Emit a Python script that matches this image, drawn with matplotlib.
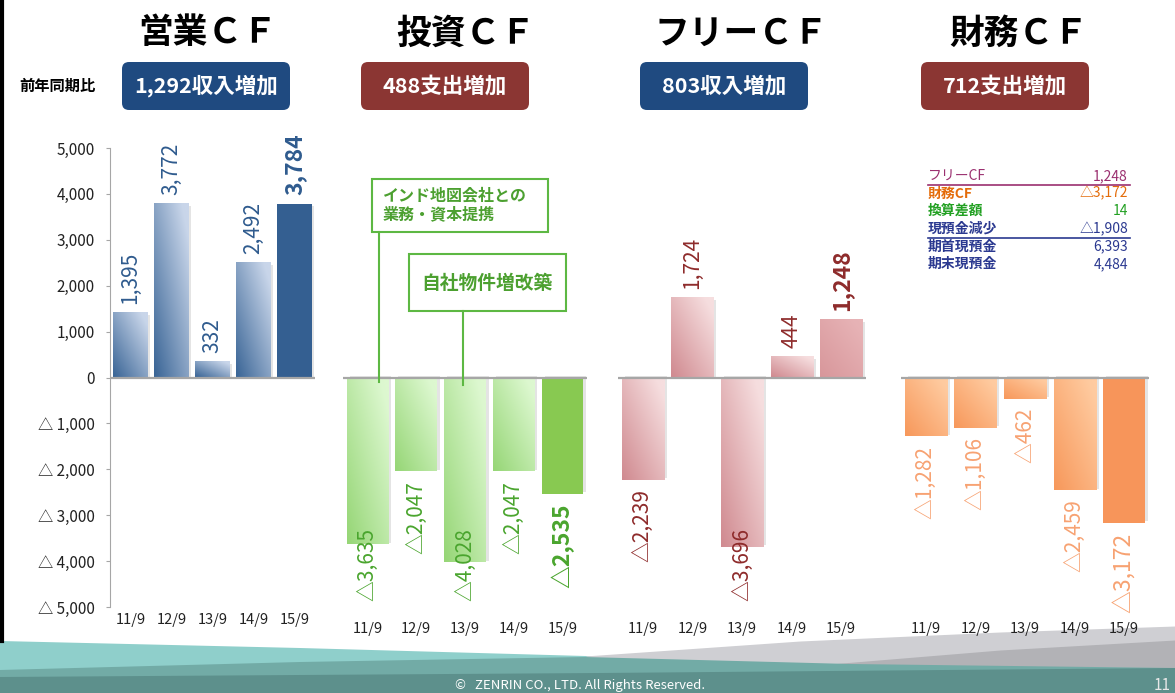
import numpy as np
import matplotlib.pyplot as plt
from matplotlib.patches import FancyBboxPatch, Rectangle
from matplotlib.colors import to_rgb

plt.rcParams['font.family'] = ['Noto Sans CJK JP', 'DejaVu Sans']

# ---------------------------------------------------------------------------
# data (百万円)
# ---------------------------------------------------------------------------
periods = ["11/9", "12/9", "13/9", "14/9", "15/9"]
operating_cf = [1395, 3772, 332, 2492, 3784]
investing_cf = [-3635, -2047, -4028, -2047, -2535]
free_cf = [-2239, 1724, -3696, 444, 1248]
financing_cf = [-1282, -1106, -462, -2459, -3172]

panel_titles = ["営業ＣＦ", "投資ＣＦ", "フリーＣＦ", "財務ＣＦ"]
yoy_labels = ["1,292収入増加", "488支出増加", "803収入増加", "712支出増加"]

table_labels = ["フリーCF", "財務CF", "換算差額", "現預金減少", "期首現預金", "期末現預金"]
table_values = ["1,248", "△3,172", "14", "△1,908", "6,393", "4,484"]

callout_invest = ["インド地図会社との\n業務・資本提携", "自社物件増改築"]

y_ticks = [5000, 4000, 3000, 2000, 1000, 0, -1000, -2000, -3000, -4000, -5000]

# ---------------------------------------------------------------------------
W, H = 1175, 693
fig = plt.figure(figsize=(W / 100, H / 100), dpi=100)
fig.patch.set_facecolor("white")

bg = fig.add_axes([0, 0, 1, 1], zorder=0)
bg.set_xlim(0, W)
bg.set_ylim(H, 0)
bg.axis("off")


def px_axes(left, top, right, bottom, z=2):
    ax = fig.add_axes([left / W, 1 - bottom / H, (right - left) / W, (bottom - top) / H], zorder=z)
    ax.set_facecolor("none")
    return ax


def fmt(v):
    return ("△" if v < 0 else "") + f"{abs(v):,}"


def grad_bar(ax, x, h, w, dark, light):
    n = 40
    xx, yy = np.meshgrid(np.linspace(0, 1, n), np.linspace(0, 1, n))
    t = np.clip(0.55 * xx + 0.55 * yy, 0, 1)[..., None]
    rgb = np.array(to_rgb(dark)) * (1 - t) + np.array(to_rgb(light)) * t
    ax.imshow(rgb, extent=[x - w / 2, x + w / 2, min(0, h), max(0, h)],
              origin="lower", aspect="auto", interpolation="bicubic", zorder=2)


# bottom wave band
xs = np.linspace(0, W, 400)
def curve(pts):
    px, py = zip(*pts)
    return np.interp(xs, px, py)

bg.fill_between(xs, curve([(0, 641), (300, 648), (585, 656), (900, 664), (1175, 672)]), H,
                color="#8FCFCB", lw=0)
gx = xs[xs >= 585]
gtop = np.interp(gx, [585, 800, 1000, 1175], [656, 641, 632, 626])
bg.fill_between(gx, gtop, H, color="#CFCFD3", lw=0)
dx = xs[xs >= 830]
dtop = np.interp(dx, [830, 1000, 1175], [664, 650, 640])
bg.fill_between(dx, dtop, H, color="#B2B2B6", lw=0)
bg.fill_between(xs, curve([(0, 670), (300, 662), (585, 657), (850, 664), (1175, 668)]), H,
                color="#72ABA6", lw=0)
bg.fill_between(xs, curve([(0, 677), (600, 673), (1175, 668)]), H, color="#5D908C", lw=0)
bg.text(580, 686, "©   ZENRIN CO., LTD. All Rights Reserved.", color="white", fontsize=9.5,
        ha="center", va="center")
bg.text(1171, 685, "11", color="#E8E8E8", fontsize=11, ha="right", va="center")
bg.plot([1.5, 1.5], [0, 641], color="black", lw=3)

# titles and YoY boxes
title_x = [208, 466, 741, 1019]
box_x = [206, 445, 724, 1005]
box_colors = ["#1F4A80", "#8B3633", "#1F4A80", "#8B3633"]
for tx, bx, title, lab, bc in zip(title_x, box_x, panel_titles, yoy_labels, box_colors):
    bg.text(tx, 33, title, fontsize=25, fontweight="bold", ha="center", va="center", color="black")
    bg.add_patch(FancyBboxPatch((bx - 84, 62), 168, 48,
                                boxstyle="round,pad=0,rounding_size=7", fc=bc, ec="none"))
    bg.text(bx, 86, lab, fontsize=15.5, fontweight="bold", color="white", ha="center", va="center")
bg.text(57, 86, "前年同期比", fontsize=11, fontweight="bold", ha="center", va="center")

# ---------------------------------------------------------------------------
panels = [
    dict(vals=operating_cf, ext=(110, 315), dark="#3A6596", light="#C9D6EA",
         last="#345F91", tc="#2F5B8E", last_bold=True),
    dict(vals=investing_cf, ext=(343, 587), dark="#96D676", light="#DDF8D0",
         last="#88C951", tc="#4AA52E", last_bold=True),
    dict(vals=free_cf, ext=(618, 866), dark="#D08A90", light="#F6DEDF",
         last="#D8979B", tc="#8E2B2B", last_bold=True),
    dict(vals=financing_cf, ext=(901, 1149), dark="#F7985B", light="#FFCBA0",
         last="#F7955A", tc="#F7A272", last_bold=False),
]

axes = []
for i, p in enumerate(panels):
    ax = px_axes(p["ext"][0], 148, p["ext"][1], 607)
    axes.append(ax)
    x = np.arange(len(periods))
    w = 0.85
    vals = p["vals"]
    for j, v in enumerate(vals):
        # light shadow
        ax.add_patch(Rectangle((j - w / 2 + 0.06, min(0, v) - 40 * np.sign(v)), w, abs(v),
                               fc="#E4E4E4", ec="none", zorder=1))
        if j == len(vals) - 1:
            if i == 2:
                grad_bar(ax, j, v, w, p["last"], "#E7B3B6")
            else:
                ax.bar(j, v, w, color=p["last"], zorder=2)
        else:
            grad_bar(ax, j, v, w, p["dark"], p["light"])

        last = j == len(vals) - 1
        fs = 16.5 if last else 15
        fw = "bold" if (last and p["last_bold"]) else "normal"
        if v >= 0:
            ax.text(j, v + 200, fmt(v), rotation=90, ha="center", va="bottom",
                    fontsize=fs, fontweight=fw, color=p["tc"], zorder=5)
        elif v < -3300:
            ax.text(j, -4870, fmt(v), rotation=90, ha="center", va="bottom",
                    fontsize=fs, fontweight=fw, color=p["tc"], zorder=5)
        else:
            ax.text(j, v - 200, fmt(v), rotation=90, ha="center", va="top",
                    fontsize=fs, fontweight=fw, color=p["tc"], zorder=5)

    ax.axhline(0, color="#A6A6A6", lw=1.6, zorder=3)
    ax.set_xlim(-0.5, 4.5)
    ax.set_ylim(-5000, 5000)
    ax.set_xticks(x)
    ax.set_xticklabels(periods, fontsize=10.5, color="#222222")
    for s in ["top", "right", "bottom"]:
        ax.spines[s].set_visible(False)
    if i == 0:
        ax.spines["left"].set_color("#A6A6A6")
        ax.set_yticks(y_ticks)
        ax.set_yticklabels(["0" if t == 0 else ("△ " if t < 0 else "") + f"{abs(t):,}" for t in y_ticks],
                           fontsize=11, color="#222222")
        ax.tick_params(axis="y", length=3, color="#A6A6A6", pad=8)
        ax.tick_params(axis="x", length=0, pad=4)
    else:
        ax.spines["left"].set_visible(False)
        ax.set_yticks([])
        ax.tick_params(axis="x", length=0, pad=11)

# ---------------------------------------------------------------------------
# overlay: callouts and cash table
top = fig.add_axes([0, 0, 1, 1], zorder=10)
top.set_xlim(0, W)
top.set_ylim(H, 0)
top.axis("off")
top.set_facecolor("none")

green = "#5DB843"
top.add_patch(Rectangle((372, 179), 176, 53, fc="white", ec=green, lw=1.5))
top.text(383, 205, callout_invest[0], fontsize=11.5, fontweight="bold", color="#4CA030",
         ha="left", va="center", linespacing=1.25)
top.plot([379, 379], [232, 382], color=green, lw=1.5)
top.add_patch(Rectangle((409, 254), 157, 57, fc="white", ec=green, lw=1.5))
top.text(487, 283, callout_invest[1], fontsize=13.5, fontweight="bold", color="#4CA030",
         ha="center", va="center")
top.plot([463, 463], [311, 385], color=green, lw=1.5)

row_colors = ["#9B3070", "#E46C0A", "#22A022", "#2B3990", "#2B3990", "#2B3990"]
row_bold = [False, True, True, True, True, True]
for k, (lab, val, c, b) in enumerate(zip(table_labels, table_values, row_colors, row_bold)):
    yy = 176 + k * 17.6
    top.text(928, yy, lab, fontsize=10, color=c, fontweight="bold" if b else "normal",
             ha="left", va="center")
    top.text(1128, yy, val, fontsize=10, color=c, ha="right", va="center")
top.plot([928, 1130], [185, 185], color="#9B3070", lw=1.2)
top.plot([928, 1130], [238, 238], color="#2B3990", lw=1.2)

fig.savefig("out.png", dpi=100, facecolor="white")
